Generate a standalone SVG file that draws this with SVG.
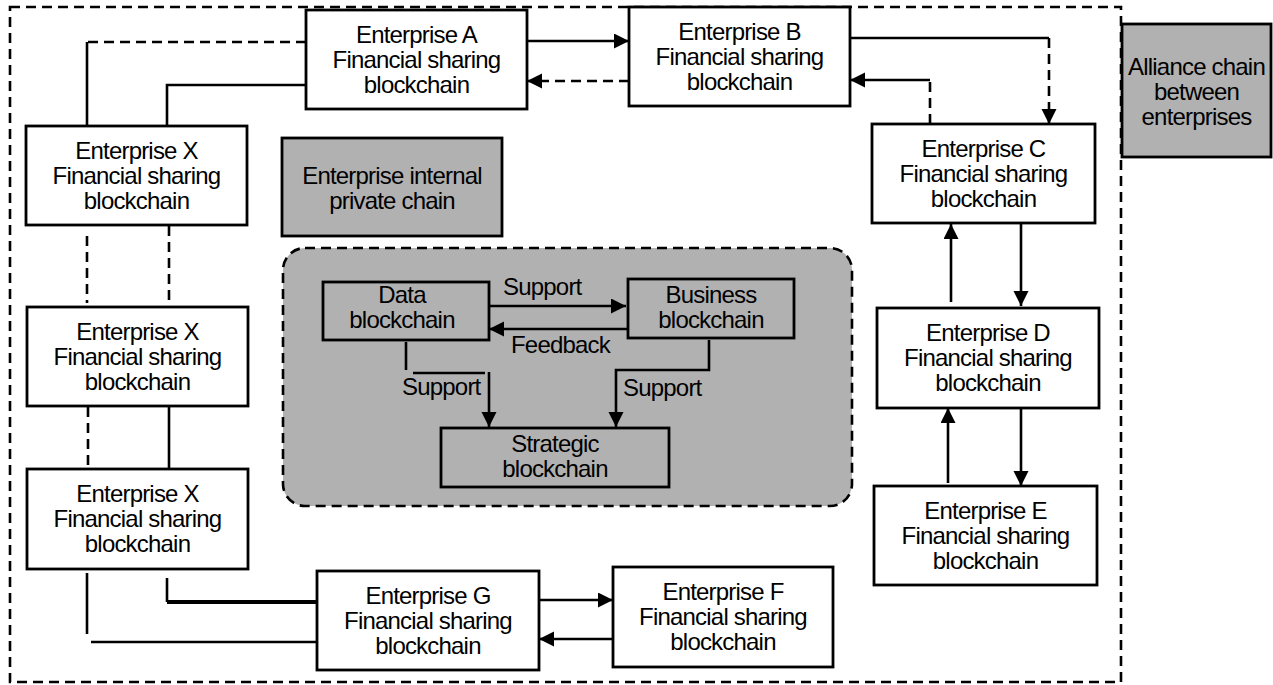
<svg xmlns="http://www.w3.org/2000/svg" width="1273" height="685" viewBox="0 0 1273 685">
<defs>
<style>
.box{fill:#fff;stroke:#000;stroke-width:2.8}
.gray{fill:#b1b1b1;stroke:#000;stroke-width:2.8}
.t{font-family:"Liberation Sans",Arial,sans-serif;font-size:24px;fill:#000;text-anchor:middle;letter-spacing:-0.8px}
.l{font-family:"Liberation Sans",Arial,sans-serif;font-size:24px;fill:#000;letter-spacing:-0.8px}
.c{fill:none;stroke:#000;stroke-width:2.6}
.d{stroke-dasharray:10 6}
</style>
<marker id="ah" markerUnits="userSpaceOnUse" markerWidth="18" markerHeight="18" refX="15" refY="7.5" orient="auto">
<path d="M0,0 L15,7.5 L0,15 Z" fill="#000"/>
</marker>
</defs>
<rect width="1273" height="685" fill="#fff"/>
<rect x="10" y="7" width="1111" height="675" fill="none" stroke="#000" stroke-width="2.6" stroke-dasharray="10 6"/>
<g id="private-area">
<rect x="283" y="248" width="569" height="258" rx="22" fill="#b1b1b1" stroke="#000" stroke-width="2.6" stroke-dasharray="10 6"/>
</g>
<g id="connectors">
<path class="c" d="M527,41 L629,41" marker-end="url(#ah)"/>
<path class="c d" d="M629,81 L527,81" marker-end="url(#ah)"/>
<path class="c" d="M850,38 L1049,38"/>
<path class="c d" d="M1049,38 L1049,124" marker-end="url(#ah)"/>
<path class="c d" d="M930,124 L930,80"/>
<path class="c" d="M930,80 L850,80" marker-end="url(#ah)"/>
<path class="c d" d="M306,42 L87,42"/>
<path class="c" d="M87,42 L87,126"/>
<path class="c" d="M306,85 L167,85 L167,126"/>
<path class="c d" d="M87,236 L87,303"/>
<path class="c d" d="M169,226 L169,300"/>
<path class="c d" d="M88,407 L88,469"/>
<path class="c" d="M169,406 L169,469"/>
<path class="c" d="M87,573 L87,634"/>
<path class="c" d="M91,642 L317,642"/>
<path class="c" d="M167,578 L167,602"/>
<path fill="none" stroke="#000" stroke-width="4" d="M167,602 L317,602"/>
<path class="c" d="M539,600 L613,600" marker-end="url(#ah)"/>
<path class="c" d="M613,639 L539,639" marker-end="url(#ah)"/>
<path class="c" d="M1021,223 L1021,306" marker-end="url(#ah)"/>
<path class="c" d="M951,302 L951,224" marker-end="url(#ah)"/>
<path class="c" d="M1021,408 L1021,486" marker-end="url(#ah)"/>
<path class="c" d="M948,483 L948,408" marker-end="url(#ah)"/>
<path class="c" d="M489,306 L626,306" marker-end="url(#ah)"/>
<path class="c" d="M627,329 L489,329" marker-end="url(#ah)"/>
<path class="c" d="M406,342 L406,370"/>
<path class="c" d="M413,373 L485,373"/>
<path class="c" d="M489,372 L489,427" marker-end="url(#ah)"/>
<path class="c" d="M709,340 L709,370 L616,370 L616,427" marker-end="url(#ah)"/>
<text class="l" x="503" y="295">Support</text>
<text class="l" x="511" y="353">Feedback</text>
<text class="l" x="402" y="395">Support</text>
<text class="l" x="623" y="396">Support</text>
</g>
<g id="enterprise-a">
<rect class="box" x="306" y="10" width="221" height="99"/>
<text class="t" x="416.5" y="43">Enterprise A</text>
<text class="t" x="416.5" y="68">Financial sharing</text>
<text class="t" x="416.5" y="93">blockchain</text>
</g>
<g id="enterprise-b">
<rect class="box" x="629" y="7" width="221" height="99"/>
<text class="t" x="739.5" y="40">Enterprise B</text>
<text class="t" x="739.5" y="65">Financial sharing</text>
<text class="t" x="739.5" y="90">blockchain</text>
</g>
<g id="alliance-chain">
<rect class="gray" x="1122" y="24" width="149" height="133"/>
<text class="t" x="1196.5" y="75">Alliance chain</text>
<text class="t" x="1196.5" y="100">between</text>
<text class="t" x="1196.5" y="125">enterprises</text>
</g>
<g id="enterprise-c">
<rect class="box" x="872" y="124" width="223" height="99"/>
<text class="t" x="983.5" y="157">Enterprise C</text>
<text class="t" x="983.5" y="182">Financial sharing</text>
<text class="t" x="983.5" y="207">blockchain</text>
</g>
<g id="enterprise-d">
<rect class="box" x="877" y="308" width="222" height="100"/>
<text class="t" x="988" y="341">Enterprise D</text>
<text class="t" x="988" y="366">Financial sharing</text>
<text class="t" x="988" y="391">blockchain</text>
</g>
<g id="enterprise-e">
<rect class="box" x="874" y="486" width="223" height="99"/>
<text class="t" x="985.5" y="519">Enterprise E</text>
<text class="t" x="985.5" y="544">Financial sharing</text>
<text class="t" x="985.5" y="569">blockchain</text>
</g>
<g id="enterprise-f">
<rect class="box" x="613" y="567" width="220" height="100"/>
<text class="t" x="723" y="600">Enterprise F</text>
<text class="t" x="723" y="625">Financial sharing</text>
<text class="t" x="723" y="650">blockchain</text>
</g>
<g id="enterprise-g">
<rect class="box" x="317" y="571" width="222" height="99"/>
<text class="t" x="428" y="604">Enterprise G</text>
<text class="t" x="428" y="629">Financial sharing</text>
<text class="t" x="428" y="654">blockchain</text>
</g>
<g id="enterprise-x1">
<rect class="box" x="26" y="126" width="221" height="99"/>
<text class="t" x="136.5" y="159">Enterprise X</text>
<text class="t" x="136.5" y="184">Financial sharing</text>
<text class="t" x="136.5" y="209">blockchain</text>
</g>
<g id="enterprise-x2">
<rect class="box" x="27" y="307" width="221" height="99"/>
<text class="t" x="137.5" y="340">Enterprise X</text>
<text class="t" x="137.5" y="365">Financial sharing</text>
<text class="t" x="137.5" y="390">blockchain</text>
</g>
<g id="enterprise-x3">
<rect class="box" x="27" y="469" width="221" height="100"/>
<text class="t" x="137.5" y="502">Enterprise X</text>
<text class="t" x="137.5" y="527">Financial sharing</text>
<text class="t" x="137.5" y="552">blockchain</text>
</g>
<g id="internal-private-chain">
<rect class="gray" x="282" y="138" width="220" height="98"/>
<text class="t" x="392" y="184">Enterprise internal</text>
<text class="t" x="392" y="209">private chain</text>
</g>
<g id="data-blockchain">
<rect class="box" style="fill:none" x="323" y="282" width="166" height="58"/>
<text class="t" x="402" y="303">Data</text>
<text class="t" x="402" y="328">blockchain</text>
</g>
<g id="business-blockchain">
<rect class="box" style="fill:none" x="628" y="279" width="166" height="59"/>
<text class="t" x="711" y="303">Business</text>
<text class="t" x="711" y="328">blockchain</text>
</g>
<g id="strategic-blockchain">
<rect class="box" style="fill:none" x="441" y="428" width="228" height="59"/>
<text class="t" x="555" y="452">Strategic</text>
<text class="t" x="555" y="477">blockchain</text>
</g>
</svg>
